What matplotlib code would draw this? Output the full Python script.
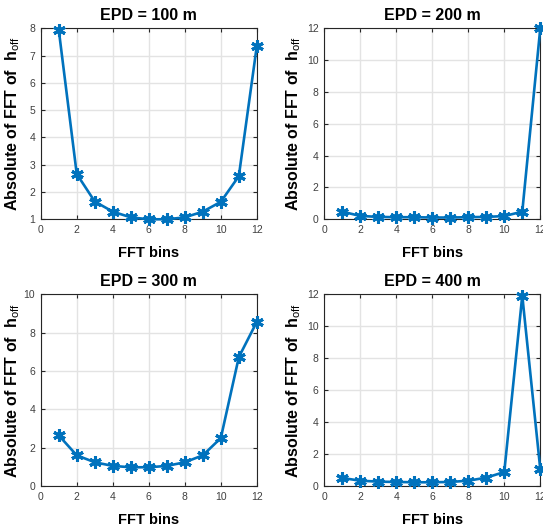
import matplotlib
matplotlib.use("Agg")
import matplotlib.pyplot as plt

# FFT bin indices shared by all panels
bins = [1, 2, 3, 4, 5, 6, 7, 8, 9, 10, 11, 12]

# Magnitude of the FFT of h_off for each EPD
epd_labels = ["EPD = 100 m", "EPD = 200 m", "EPD = 300 m", "EPD = 400 m"]
mag_100 = [7.95, 2.66, 1.65, 1.28, 1.07, 1.00, 1.00, 1.07, 1.28, 1.64, 2.58, 7.36]
mag_200 = [0.48, 0.21, 0.15, 0.13, 0.13, 0.11, 0.11, 0.13, 0.15, 0.20, 0.48, 12.0]
mag_300 = [2.65, 1.61, 1.25, 1.06, 0.99, 0.99, 1.06, 1.25, 1.61, 2.51, 6.72, 8.56]
mag_400 = [0.52, 0.35, 0.29, 0.27, 0.25, 0.25, 0.27, 0.35, 0.54, 0.89, 11.9, 1.06]

y_limits = [(1, 8), (0, 12), (0, 10), (0, 12)]
y_ticks = [[1, 2, 3, 4, 5, 6, 7, 8], [0, 2, 4, 6, 8, 10, 12],
           [0, 2, 4, 6, 8, 10], [0, 2, 4, 6, 8, 10, 12]]
x_ticks = [0, 2, 4, 6, 8, 10, 12]

plt.rcParams["font.family"] = ["Liberation Sans", "DejaVu Sans"]
plt.rcParams["mathtext.fontset"] = "custom"
plt.rcParams["mathtext.rm"] = "Liberation Sans"
plt.rcParams["mathtext.bf"] = "Liberation Sans:bold"

line_color = "#0072BD"
axis_color = "#262626"
tick_color = "#404040"

fig = plt.figure(figsize=(5.43, 5.28), dpi=100)
positions = [
    [0.075, 0.5847, 0.398, 0.3617],
    [0.597, 0.5847, 0.398, 0.3617],
    [0.075, 0.0790, 0.398, 0.3640],
    [0.597, 0.0790, 0.398, 0.3640],
]
ylabel_x = [-0.085, -0.097, -0.085, -0.097]
series = [mag_100, mag_200, mag_300, mag_400]

for pos, mag, title, ylim, yt, lx in zip(positions, series, epd_labels,
                                         y_limits, y_ticks, ylabel_x):
    ax = fig.add_axes(pos)
    ax.plot(bins, mag, color=line_color, linewidth=1.9,
            marker=(6, 2, 0), markersize=9, markeredgewidth=2.2,
            markeredgecolor=line_color, clip_on=False, zorder=3)
    ax.set_xlim(0, 12)
    ax.set_ylim(*ylim)
    ax.set_xticks(x_ticks)
    ax.set_yticks(yt)
    ax.grid(True, color="#e3e3e3", linewidth=1.0)
    ax.set_axisbelow(True)
    ax.tick_params(direction="in", length=3, width=0.8, colors=axis_color,
                   labelcolor=tick_color, labelsize=7.5,
                   top=True, right=True, pad=4)
    for s in ax.spines.values():
        s.set_color(axis_color)
        s.set_linewidth(0.8)
    ax.set_title(title, fontsize=11.5, fontweight="bold", pad=6, color="black")
    ax.set_xlabel("FFT bins", fontsize=10.5, fontweight="bold", labelpad=8)
    ax.set_ylabel(r"Absolute of FFT of  $\mathbf{h}_{\mathrm{off}}$",
                  fontsize=11.5, fontweight="bold")
    ax.yaxis.set_label_coords(lx, 0.5)

fig.savefig("out.png", dpi=100)
